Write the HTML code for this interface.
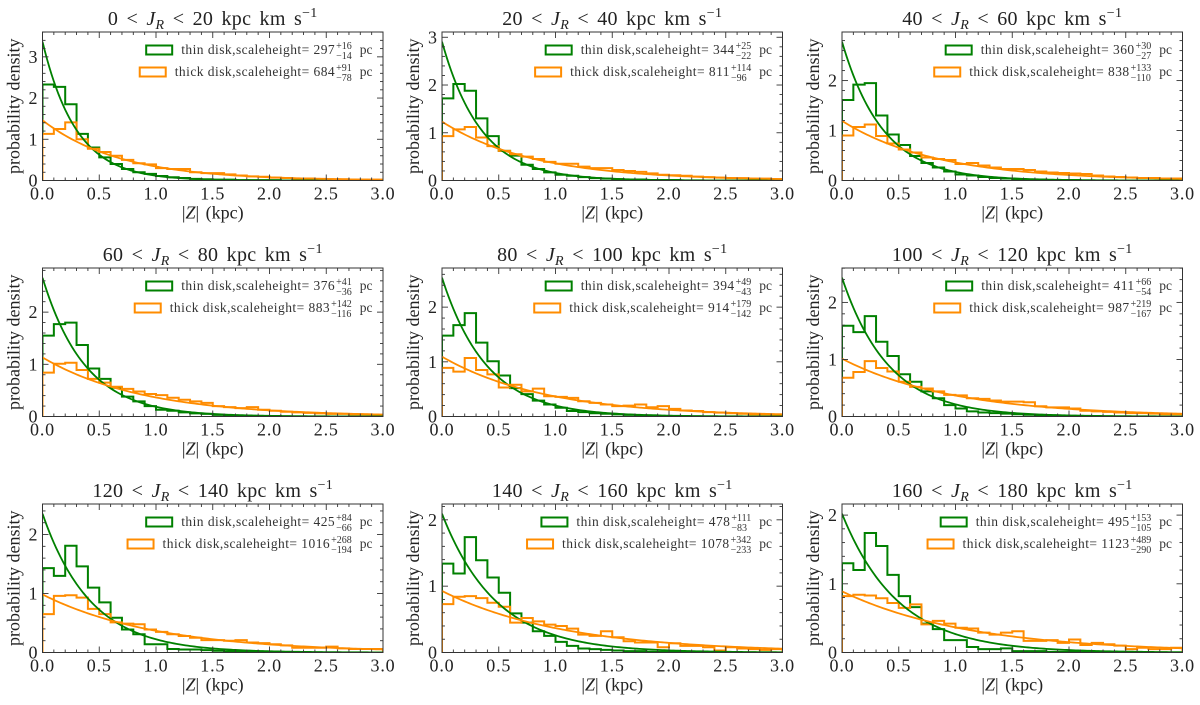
<!DOCTYPE html>
<html><head><meta charset="utf-8">
<style>
html,body{margin:0;padding:0;background:#fff;}
svg{display:block;font-family:"Liberation Serif",serif;}
</style></head>
<body>
<svg id="fig" width="1200" height="705" viewBox="0 0 1200 705" xmlns="http://www.w3.org/2000/svg"></svg>
<script>
const jrLow = [0,20,40,60,80,100,120,140,160];
const jrHigh = [20,40,60,80,100,120,140,160,180];
const thinH = [297,344,360,376,394,411,425,478,495];
const thinErrP = [16,25,30,41,49,66,84,111,153];
const thinErrM = [14,22,27,36,43,54,66,83,105];
const thickH = [684,811,838,883,914,987,1016,1078,1123];
const thickErrP = [91,114,133,142,179,219,268,342,489];
const thickErrM = [78,96,110,116,142,167,194,233,290];
const binEdgesStart = 0, binWidth = 0.1;
const thinHist = [
[2.33,2.27,1.85,1.13,0.80,0.56,0.40,0.28,0.20,0.16,0.11,0.08,0.06,0.04,0.03,0.02,0.02,0.01,0.01,0.01,0.01,0,0,0,0,0,0,0,0,0],
[1.72,2.02,1.88,1.30,0.93,0.62,0.52,0.33,0.24,0.17,0.12,0.10,0.07,0.05,0.04,0.03,0.02,0.02,0.01,0.01,0.01,0,0,0,0,0,0,0,0,0],
[1.61,1.92,1.95,1.30,0.92,0.71,0.49,0.35,0.26,0.18,0.12,0.10,0.07,0.05,0.04,0.03,0.02,0.02,0.01,0.01,0.01,0,0,0,0,0,0,0,0,0],
[1.55,1.77,1.80,1.37,0.92,0.72,0.55,0.38,0.29,0.20,0.13,0.11,0.08,0.06,0.05,0.03,0.02,0.02,0.01,0.01,0.01,0,0,0,0,0,0,0,0,0],
[1.48,1.67,1.89,1.35,1.01,0.75,0.52,0.41,0.29,0.22,0.16,0.10,0.08,0.06,0.05,0.04,0.03,0.02,0.02,0.01,0.01,0,0,0,0,0,0,0,0,0],
[1.59,1.48,1.76,1.31,1.06,0.74,0.61,0.44,0.32,0.20,0.14,0.09,0.07,0.06,0.05,0.04,0.03,0.02,0.02,0.01,0.01,0,0,0,0,0,0,0,0,0],
[1.43,1.30,1.81,1.46,1.10,0.85,0.59,0.39,0.31,0.14,0.14,0.06,0.05,0.05,0.04,0.03,0.02,0.02,0.01,0.01,0.01,0,0,0,0,0,0,0,0,0],
[1.34,1.19,1.74,1.39,1.13,0.90,0.59,0.45,0.32,0.25,0.16,0.10,0.06,0.05,0.04,0.03,0.02,0.02,0.01,0.01,0.01,0,0,0,0,0,0,0,0,0],
[1.30,1.20,1.74,1.55,1.13,0.82,0.66,0.42,0.34,0.18,0.18,0.08,0.05,0.05,0.06,0.02,0.02,0.02,0.01,0.01,0.01,0,0,0,0,0,0,0,0,0]
];
const thickHist = [
[1.13,1.25,1.41,1.00,0.77,0.69,0.60,0.50,0.42,0.39,0.30,0.28,0.28,0.20,0.18,0.18,0.15,0.12,0.10,0.09,0.07,0.06,0.05,0.05,0.04,0.03,0.03,0.02,0.02,0.02],
[0.93,1.07,1.12,0.90,0.72,0.62,0.55,0.50,0.45,0.39,0.35,0.35,0.29,0.26,0.26,0.22,0.20,0.18,0.15,0.12,0.11,0.10,0.08,0.07,0.06,0.05,0.05,0.04,0.04,0.03],
[0.90,1.07,1.12,0.89,0.74,0.62,0.56,0.46,0.43,0.41,0.33,0.35,0.30,0.26,0.23,0.23,0.21,0.18,0.16,0.15,0.14,0.13,0.10,0.08,0.07,0.06,0.05,0.05,0.04,0.04],
[0.84,1.01,1.03,0.89,0.72,0.65,0.57,0.53,0.48,0.43,0.41,0.36,0.32,0.29,0.26,0.20,0.18,0.16,0.18,0.13,0.11,0.09,0.08,0.07,0.06,0.05,0.05,0.04,0.04,0.03],
[0.89,0.82,1.07,0.85,0.77,0.53,0.58,0.46,0.51,0.37,0.36,0.34,0.28,0.25,0.22,0.19,0.20,0.22,0.17,0.19,0.14,0.11,0.10,0.08,0.07,0.06,0.05,0.04,0.04,0.03],
[0.68,0.78,0.97,0.85,0.79,0.61,0.52,0.49,0.44,0.38,0.37,0.32,0.31,0.28,0.26,0.26,0.25,0.18,0.16,0.16,0.14,0.10,0.09,0.08,0.07,0.06,0.06,0.05,0.04,0.04],
[0.65,0.96,0.97,0.93,0.74,0.65,0.51,0.49,0.48,0.39,0.35,0.31,0.28,0.25,0.21,0.21,0.20,0.21,0.17,0.16,0.14,0.12,0.08,0.08,0.08,0.10,0.07,0.06,0.06,0.06],
[0.73,0.84,0.85,0.82,0.75,0.69,0.45,0.52,0.47,0.42,0.40,0.36,0.27,0.25,0.32,0.23,0.17,0.15,0.15,0.08,0.14,0.10,0.10,0.08,0.03,0.08,0.06,0.05,0.04,0.05],
[0.82,0.84,0.83,0.79,0.72,0.65,0.70,0.41,0.46,0.42,0.36,0.35,0.29,0.26,0.29,0.31,0.17,0.17,0.18,0.14,0.19,0.11,0.14,0.12,0.10,0.05,0.07,0.05,0.05,0.07]
];
const xTicks = [0,0.5,1,1.5,2,2.5,3];
const xTickLabels = ["0.0","0.5","1.0","1.5","2.0","2.5","3.0"];

const NS = "http://www.w3.org/2000/svg";
const svg = document.getElementById('fig');
const colLeft = [42.5, 442, 842], rowTop = [32, 268, 504];
const PW = 340.5, PH = 148.5;
const GREEN = "#008000", ORANGE = "#ff8c00";
function mk(tag, attrs, parent){
  const e = document.createElementNS(NS, tag);
  for (const k in attrs) e.setAttribute(k, attrs[k]);
  (parent||svg).appendChild(e); return e;
}

for (let p = 0; p < 9; p++) {
  const L = colLeft[p%3], T = rowTop[Math.floor(p/3)];
  const g = mk('g', {});
  
  
  const hThin = thinH[p]/1000, hThick = thickH[p]/1000;
  const ymax = 1.07 * Math.max(1/hThin, 1/hThick, ...thinHist[p], ...thickHist[p]);
  const sx = v => L + v/3*PW;
  const sy = v => T + PH - v/ymax*PH;
  const cid = 'clip' + p;
  const cp = mk('clipPath', {id: cid}, g);
  mk('rect', {x: L, y: T, width: PW, height: PH}, cp);
  const plot = mk('g', {'clip-path': 'url(#' + cid + ')'}, g);
  [[thinHist[p], GREEN, 'thin-disk-histogram'], [thickHist[p], ORANGE, 'thick-disk-histogram']].forEach(([arr, col, nm]) => {
    let d = 'M' + sx(binEdgesStart) + ',' + sy(0);
    arr.forEach((v, i) => {
      const x0 = binEdgesStart + i*binWidth, x1 = x0 + binWidth;
      d += ' L' + sx(x0) + ',' + sy(v) + ' L' + sx(x1) + ',' + sy(v);
    });
    d += ' L' + sx(binEdgesStart + arr.length*binWidth) + ',' + sy(0);
    const path = mk('path', {d: d, fill: 'none', stroke: col, 'stroke-width': 2}, plot);
    
    
  });
  [[hThin, GREEN, 'thin-disk-fit'], [hThick, ORANGE, 'thick-disk-fit']].forEach(([h, col, nm]) => {
    let d = '';
    for (let i = 0; i <= 150; i++) {
      const z = i*0.02;
      d += (i ? ' L' : 'M') + sx(z).toFixed(2) + ',' + sy(Math.exp(-z/h)/h).toFixed(2);
    }
    const path = mk('path', {d: d, fill: 'none', stroke: col, 'stroke-width': 1.8}, plot);
    
    
  });
  mk('rect', {x: L, y: T, width: PW, height: PH, fill: 'none', stroke: '#333', 'stroke-width': 1}, g);
  for (let i = 0; i <= 30; i++) {
    const v = i*0.1, x = sx(v), maj = (i % 5 === 0), len = maj ? 6 : 3;
    mk('line', {x1: x, x2: x, y1: T+PH, y2: T+PH-len, stroke: '#333', 'stroke-width': 0.9}, g);
    mk('line', {x1: x, x2: x, y1: T, y2: T+len, stroke: '#333', 'stroke-width': 0.9}, g);
  }
  xTicks.forEach((v, i) => {
    const t = mk('text', {x: sx(v), y: T+PH+19, 'text-anchor': 'middle', 'font-size': 18, 'letter-spacing': 0.8, fill: '#222'}, g);
    t.textContent = xTickLabels[i];
    
    
  });
  for (let i = 0; i*0.2 <= ymax; i++) {
    const v = i*0.2, y = sy(v), maj = (i % 5 === 0), len = maj ? 6 : 3;
    mk('line', {x1: L, x2: L+len, y1: y, y2: y, stroke: '#333', 'stroke-width': 0.9}, g);
    mk('line', {x1: L+PW, x2: L+PW-len, y1: y, y2: y, stroke: '#333', 'stroke-width': 0.9}, g);
    if (maj) {
      const t = mk('text', {x: L-5, y: y+6, 'text-anchor': 'end', 'font-size': 18, fill: '#222'}, g);
      t.textContent = String(Math.round(v));
      
      
    }
  }
  const xl = mk('text', {x: L+PW/2, y: T+PH+38, 'text-anchor': 'middle', 'font-size': 18, 'word-spacing': 2, fill: '#222'}, g);
  xl.innerHTML = '|<tspan font-style="italic">Z</tspan>| (kpc)';
  
  
  const yl = mk('text', {x: 0, y: 0, 'text-anchor': 'middle', 'font-size': 18, fill: '#222',
    transform: 'translate(' + (L-23) + ',' + (T+PH/2) + ') rotate(-90)'}, g);
  yl.textContent = 'probability density';
  
  
  const tt = mk('text', {x: L+PW/2, y: T-7, 'text-anchor': 'middle', 'font-size': 20, 'word-spacing': 3, 'letter-spacing': 0.3, fill: '#222'}, g);
  tt.innerHTML = jrLow[p] + ' &lt; <tspan font-style="italic">J</tspan><tspan font-style="italic" font-size="14" dy="4">R</tspan><tspan dy="-4"> &lt; ' + jrHigh[p] + ' kpc km s</tspan><tspan font-size="14" dy="-8">−1</tspan>';
  
  
  const entries = [
    ['thin disk,scaleheight= ', thinH[p], thinErrP[p], thinErrM[p], GREEN, 'legend-entry-thin', 18],
    ['thick disk,scaleheight= ', thickH[p], thickErrP[p], thickErrM[p], ORANGE, 'legend-entry-thick', 40]
  ];
  entries.forEach(([lab, h, ep, em, col, nm, dyy]) => {
    const lg = mk('g', {}, g);
    
    
    const yc = T + dyy;
    const main = mk('text', {x: 0, y: yc+4, 'font-size': 13.5, 'letter-spacing': 0.45, fill: '#333'}, lg);
    main.textContent = lab + h;
    const w = main.getComputedTextLength();
    const sup = mk('text', {x: 0, y: yc-1, 'font-size': 10, fill: '#333'}, lg);
    sup.textContent = '+' + ep;
    const sub = mk('text', {x: 0, y: yc+9, 'font-size': 10, fill: '#333'}, lg);
    sub.textContent = '−' + em;
    const sw = Math.max(sup.getComputedTextLength(), sub.getComputedTextLength());
    const pc = mk('text', {x: 0, y: yc+4, 'font-size': 13.5, fill: '#333'}, lg);
    pc.textContent = 'pc';
    const pw = pc.getComputedTextLength();
    const total = w + 1 + sw + 8 + pw;
    const x0 = L + 330 - total;
    main.setAttribute('x', x0);
    sup.setAttribute('x', x0 + w + 1);
    sub.setAttribute('x', x0 + w + 1);
    pc.setAttribute('x', x0 + w + 1 + sw + 8);
    mk('rect', {x: x0 - 35, y: yc - 4.5, width: 26, height: 9, fill: 'none', stroke: col, 'stroke-width': 2}, lg);
  });
}
</script>
</body></html>
